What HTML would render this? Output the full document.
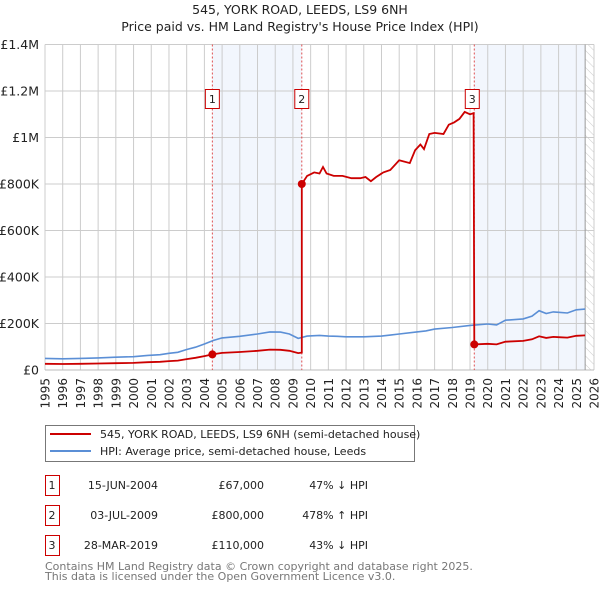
<!DOCTYPE html>
<html><head><meta charset="utf-8"><style>
body{margin:0;background:#fff;font-family:"Liberation Sans","DejaVu Sans",sans-serif;}
svg text{font-family:"DejaVu Sans","Liberation Sans",sans-serif;}
</style></head><body>
<svg id="c" width="600" height="590" viewBox="0 0 600 590" xmlns="http://www.w3.org/2000/svg">
<defs><pattern id="hatch" width="6" height="6" patternUnits="userSpaceOnUse" patternTransform="rotate(-45)"><line x1="0" y1="0" x2="0" y2="6" stroke="#ccc" stroke-width="1"/></pattern></defs>
<text x="300" y="14" text-anchor="middle" font-size="12.5" fill="#222">545, YORK ROAD, LEEDS, LS9 6NH</text>
<text x="300" y="31" text-anchor="middle" font-size="12.5" fill="#222">Price paid vs. HM Land Registry's House Price Index (HPI)</text>
<g id="plot"></g>
<g>
<rect x="45.5" y="425.5" width="369" height="36" fill="#fff" stroke="#777"/>
<line x1="50" y1="434" x2="91" y2="434" stroke="#cc0000" stroke-width="2"/>
<text x="100" y="438" font-size="11" fill="#222">545, YORK ROAD, LEEDS, LS9 6NH (semi-detached house)</text>
<line x1="50" y1="451" x2="91" y2="451" stroke="#5b8fd6" stroke-width="2"/>
<text x="100" y="455" font-size="11" fill="#222">HPI: Average price, semi-detached house, Leeds</text>
</g>
<g id="table"></g>
<text x="45" y="570" font-size="11" fill="#777">Contains HM Land Registry data © Crown copyright and database right 2025.</text>
<text x="45" y="580" font-size="11" fill="#777">This data is licensed under the Open Government Licence v3.0.</text>
</svg>
<script>
const hpiYears=[1995,1996,1997,1998,1999,2000,2000.8,2001.5,2002,2002.5,2003,2003.5,2004,2004.5,2005,2006,2007,2007.7,2008.3,2008.8,2009.3,2009.8,2010.5,2011,2011.5,2012,2013,2014,2014.5,2015,2016,2016.5,2017,2018,2019,2020,2020.5,2021,2022,2022.5,2022.9,2023.3,2023.7,2024,2024.5,2025,2025.5];
const hpiValues=[50000,48000,50000,52000,55000,57000,63000,66000,72000,76000,88000,98000,112000,127000,138000,145000,155000,164000,163000,155000,136000,146000,149000,146000,145000,143000,143000,146000,150000,155000,164000,168000,176000,183000,192000,198000,194000,214000,220000,232000,255000,243000,250000,248000,245000,259000,262000];
const redYears2=[2009.5,2009.8,2010.2,2010.5,2010.7,2010.9,2011.3,2011.8,2012.3,2012.8,2013.1,2013.4,2013.7,2014.1,2014.5,2015,2015.6,2015.9,2016.2,2016.4,2016.7,2017,2017.5,2017.8,2018.1,2018.4,2018.7,2019.0,2019.2];
const redValues2=[800000,835000,850000,845000,873000,845000,835000,835000,825000,825000,830000,812000,830000,850000,860000,902000,890000,945000,970000,950000,1015000,1020000,1015000,1055000,1065000,1080000,1110000,1100000,1105000];
const saleYears=[2004.45,2009.5,2019.24];
const salePrices=[67000,800000,110000];
const saleLabels=["1","2","3"];
const saleDates=["15-JUN-2004","03-JUL-2009","28-MAR-2019"];
const salePriceText=["£67,000","£800,000","£110,000"];
const saleHpiText=["47% \u2193 HPI","478% \u2191 HPI","43% \u2193 HPI"];
const yTicks=[0,200000,400000,600000,800000,1000000,1200000,1400000];
const yTickLabels=["£0","£200K","£400K","£600K","£800K","£1M","£1.2M","£1.4M"];
const xStart=1995,xEnd=2026;
const NS="http://www.w3.org/2000/svg";
const L=45,R=594,T=44.5,B=370;
const X=v=>L+(v-xStart)/(xEnd-xStart)*(R-L);
const Y=v=>B-v/1400000*(B-T);
function mk(tag,attrs,parent){const e=document.createElementNS(NS,tag);for(const k in attrs)e.setAttribute(k,attrs[k]);parent.appendChild(e);return e;}
function hpiAt(t){if(t<=hpiYears[0])return hpiValues[0];for(let i=1;i<hpiYears.length;i++){if(t<=hpiYears[i]){const f=(t-hpiYears[i-1])/(hpiYears[i]-hpiYears[i-1]);return hpiValues[i-1]+f*(hpiValues[i]-hpiValues[i-1]);}}return hpiValues[hpiValues.length-1];}
const g=document.getElementById('plot');
const sh1=mk('rect',{x:X(saleYears[0]),y:T,width:X(saleYears[1])-X(saleYears[0]),height:B-T,fill:'#eef3fc',opacity:0.75},g);


const sh2=mk('rect',{x:X(saleYears[2]),y:T,width:X(2025.5)-X(saleYears[2]),height:B-T,fill:'#eef3fc',opacity:0.75},g);


const hz=mk('rect',{x:X(2025.5),y:T,width:R-X(2025.5),height:B-T,fill:'url(#hatch)'},g);


for(let yr=xStart;yr<=xEnd;yr++){
  const ln=mk('line',{x1:X(yr),x2:X(yr),y1:T,y2:B,stroke:'#ccc','stroke-width':1},g);
  
  
  const tx=mk('text',{x:0,y:0,transform:`translate(${X(yr)+4.5},${B+8}) rotate(-90)`,'text-anchor':'end','font-size':12,fill:'#222'},g);
  tx.textContent=String(yr);
  
  
}
yTicks.forEach((v,i)=>{
  const ln=mk('line',{x1:L,x2:R,y1:Y(v),y2:Y(v),stroke:'#ccc','stroke-width':1},g);
  
  
  const tx=mk('text',{x:L-6,y:Y(v)+4.5,'text-anchor':'end','font-size':12.5,fill:'#222'},g);
  tx.textContent=yTickLabels[i];
  
  
});
const ax=mk('line',{x1:L,x2:R,y1:B,y2:B,stroke:'#bbb','stroke-width':1},g);


const rb=mk('line',{x1:X(2025.5),x2:X(2025.5),y1:T,y2:B,stroke:'#999','stroke-width':1},g);


saleYears.forEach((s,i)=>{
  const ln=mk('line',{x1:X(s),x2:X(s),y1:T,y2:B,stroke:'#e05050','stroke-width':1,'stroke-dasharray':'2,2'},g);
  
  
});
const stopT=2025.5;
let d='';
hpiYears.forEach((t,i)=>{if(t<=stopT)d+=(i?'L':'M')+X(t).toFixed(1)+','+Y(hpiValues[i]).toFixed(1);});
const hl=mk('path',{d:d,fill:'none',stroke:'#5b8fd6','stroke-width':1.6},g);


// price line: segments 1 and 3 indexed by HPI from sale price, segment 2 from explicit values
let pts=[];
hpiYears.forEach(t=>{if(t<saleYears[0])pts.push([t,salePrices[0]*hpiAt(t)/hpiAt(saleYears[0])]);});
pts.push([saleYears[0],salePrices[0]]);
hpiYears.forEach(t=>{if(t>saleYears[0]&&t<saleYears[1])pts.push([t,salePrices[0]*hpiAt(t)/hpiAt(saleYears[0])]);});
pts.push([saleYears[1],salePrices[0]*hpiAt(saleYears[1])/hpiAt(saleYears[0])]);
redYears2.forEach((t,i)=>pts.push([t,redValues2[i]]));
pts.push([saleYears[2],salePrices[2]]);
hpiYears.forEach(t=>{if(t>saleYears[2]&&t<=stopT)pts.push([t,salePrices[2]*hpiAt(t)/hpiAt(saleYears[2])]);});
const pl=mk('path',{d:pts.map((p,i)=>(i?'L':'M')+X(p[0]).toFixed(1)+','+Y(p[1]).toFixed(1)).join(''),fill:'none',stroke:'#cc0000','stroke-width':1.8},g);


saleYears.forEach((s,i)=>{
  const c=mk('circle',{cx:X(s),cy:Y(salePrices[i]),r:4,fill:'#cc0000'},g);
  
  
  const bx=mk('rect',{x:X(s)-7-(i==2?2:0),y:89.5,width:14,height:19,fill:'#fff',stroke:'#cc0000'},g);
  
  
  const tx=mk('text',{x:X(s)-(i==2?2:0),y:103,'text-anchor':'middle','font-size':11,fill:'#222'},g);
  tx.textContent=saleLabels[i];
  
  
});
const tb=document.getElementById('table');
saleLabels.forEach((lab,i)=>{
  const y=483+i*30;
  const bx=mk('rect',{x:45.5,y:y-7.5,width:14,height:20,fill:'#fff',stroke:'#cc0000'},tb);
  
  
  const cells=[[52,'middle',lab],[158,'end',saleDates[i]],[264,'end',salePriceText[i]],[368,'end',saleHpiText[i]]];
  cells.forEach((c,j)=>{
    const t=mk('text',{x:c[0],y:y+6,'text-anchor':c[1],'font-size':11,fill:'#222'},tb);
    t.textContent=c[2];
    
    
  });
});
</script>
</body></html>
